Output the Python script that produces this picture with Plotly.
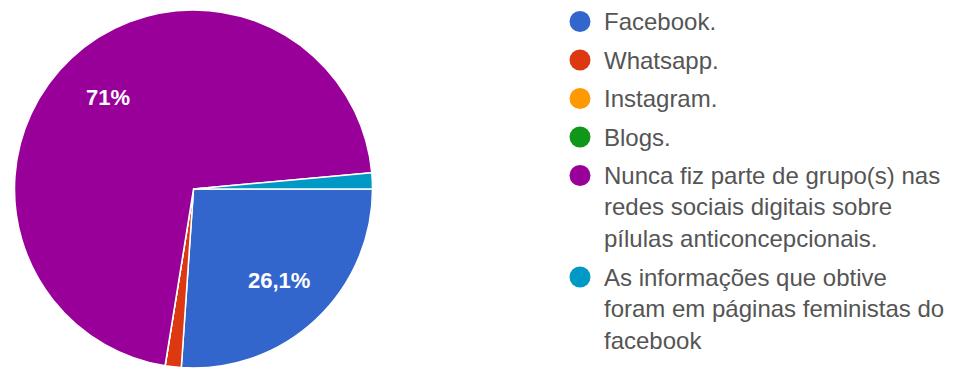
import math
import plotly.graph_objects as go

W, H = 953, 370

labels = [
    "Facebook.",
    "Whatsapp.",
    "Instagram.",
    "Blogs.",
    "Nunca fiz parte de grupo(s) nas\nredes sociais digitais sobre\npílulas anticoncepcionais.",
    "As informações que obtive\nforam em páginas feministas do\nfacebook",
]
counts = [18, 1, 0, 0, 49, 1]
colors = ["#3366cc", "#dc3912", "#ff9900", "#109618", "#990099", "#0099c6"]
show_pct = [True, False, False, False, True, False]

# pie geometry (pixels)
cx, cy, r = 193.5, 189.0, 179.0
start_deg = 90.0  # clockwise from 12 o'clock

fig = go.Figure()
fig.add_trace(go.Pie(
    labels=[l.replace("\n", " ") for l in labels],
    values=counts,
    sort=False,
    direction="clockwise",
    rotation=start_deg,
    marker=dict(colors=colors, line=dict(color="white", width=1.5)),
    textinfo="none",
    showlegend=False,
    domain=dict(x=[(cx - r) / W, (cx + r) / W], y=[1 - (cy + r) / H, 1 - (cy - r) / H]),
    hoverinfo="label+percent",
))

annotations = []
shapes = []

# slice labels placed along each slice's mid-angle
total = sum(counts)
acc = 0.0
for c, show in zip(counts, show_pct):
    frac = c / total
    mid = start_deg + 360.0 * (acc + frac / 2)
    acc += frac
    if not show:
        continue
    pct = round(frac * 100, 1)
    txt = (f"{pct:.1f}".rstrip("0").rstrip(".")).replace(".", ",") + "%"
    a = math.radians(mid)
    px = cx + 0.70 * r * math.sin(a)
    py = cy - 0.70 * r * math.cos(a)
    annotations.append(dict(
        xref="paper", yref="paper", x=px / W, y=1 - py / H,
        xanchor="center", yanchor="middle", text=f"<b>{txt}</b>", showarrow=False,
        font=dict(family="Arial", size=22, color="white"),
    ))

# custom legend
y = 21.5
item_gap, line_gap = 38.5, 31.5
dot_x, dot_d, text_x = 580.0, 21.0, 602.0
for lab, col in zip(labels, colors):
    lines = lab.split("\n")
    shapes.append(dict(
        type="circle", xref="paper", yref="paper",
        x0=(dot_x - dot_d / 2) / W, x1=(dot_x + dot_d / 2) / W,
        y0=1 - (y + dot_d / 2) / H, y1=1 - (y - dot_d / 2) / H,
        fillcolor=col, line=dict(width=0),
    ))
    for i, ln in enumerate(lines):
        annotations.append(dict(
            xref="paper", yref="paper", x=text_x / W, y=1 - (y + i * line_gap) / H,
            xanchor="left", yanchor="middle", text=ln, showarrow=False,
            font=dict(family="Arial", size=24, color="#555555"),
        ))
    y += (len(lines) - 1) * line_gap + item_gap

fig.update_layout(
    width=W, height=H,
    margin=dict(l=0, r=0, t=0, b=0),
    paper_bgcolor="white", plot_bgcolor="white",
    shapes=shapes,
    annotations=annotations,
)

fig.write_html("out.html")
